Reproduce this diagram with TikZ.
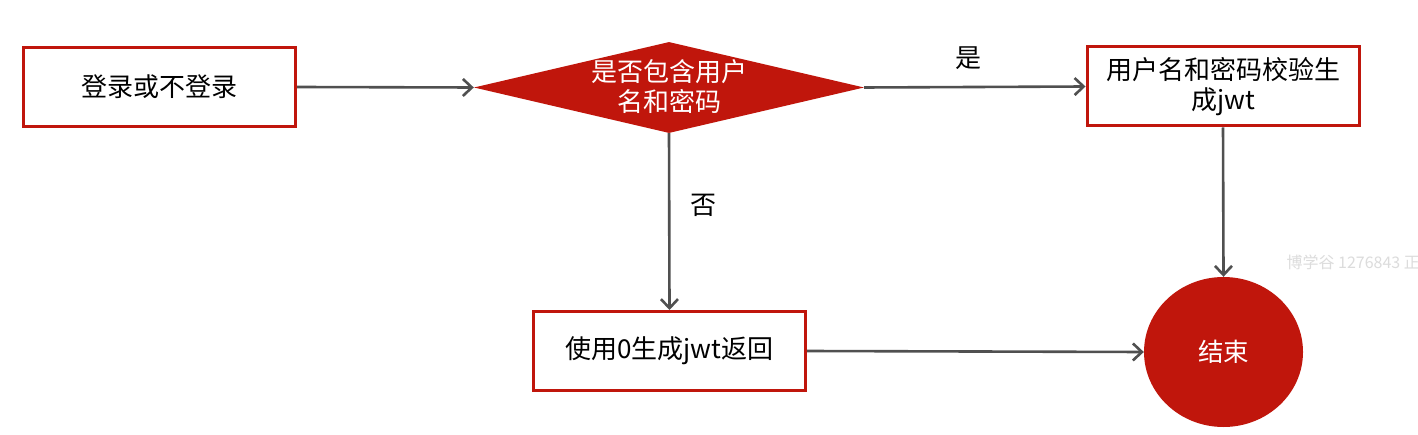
\documentclass[tikz,border=0pt]{standalone}
\usepackage{fontspec}
\setmainfont{Noto Sans CJK SC}
\usetikzlibrary{arrows.meta,shapes.geometric}
\definecolor{bred}{HTML}{C0160C}
\definecolor{lgray}{HTML}{505050}
\definecolor{wm}{HTML}{DCDCDC}
\tikzset{
  stepbox/.style={draw=bred,line width=3pt,fill=white,minimum width=272pt,minimum height=79pt,inner sep=0pt,align=center,font=\fontsize{26}{30}\selectfont,text=black},
  decbox/.style={diamond,fill=bred,draw=none,minimum width=390pt,minimum height=91pt,inner sep=0pt,aspect=4.3,align=center,font=\fontsize{26}{30}\selectfont,text=white},
  endbox/.style={ellipse,fill=bred,draw=none,minimum width=159pt,minimum height=150pt,inner sep=0pt,font=\fontsize{25.5}{30}\selectfont,text=white},
  conn/.style={draw=lgray,line width=2.6pt,-{Straight Barb[length=9pt,width=17pt,line width=2.6pt]}},
  lbl/.style={font=\fontsize{26}{30}\selectfont,text=black},
}
\begin{document}
\begin{tikzpicture}[x=1pt,y=-1pt]
\useasboundingbox (0,0) rectangle (1418,435);
\clip (0,0) rectangle (1418,435);
\fill[white] (0,0) rectangle (1418,435);
\node[stepbox] (login) at (159.5,87) {登录或不登录};
\node[decbox] (dec) at (669,87.5) {};
\node[font=\fontsize{26}{30}\selectfont,text=white,align=center] (dect) at (669,87) {是否包含用户\\名和密码};
\node[stepbox] (verify) at (1223,86.5) {用户名和密码校验生\\成jwt};
\node[stepbox] (zero) at (669.5,351) {使用0生成jwt返回};
\node[endbox] (end) at (1223.5,352) {结束};
\node[lbl] (yes) at (968,58) {是};
\node[lbl] (no) at (703,205) {否};
\node[text=wm,font=\fontsize{16}{18}\selectfont,anchor=west] (wmk) at (1283,262) {博学谷 1276843 正在};
\draw[conn] (login.east) -- (dec.west);
\draw[conn] (dec.east) -- (verify.west);
\draw[conn] (dec.south) -- (zero.north);
\draw[conn] (verify.south) -- (end.north);
\draw[conn] (zero.east) -- (end.west);
\end{tikzpicture}
\end{document}
